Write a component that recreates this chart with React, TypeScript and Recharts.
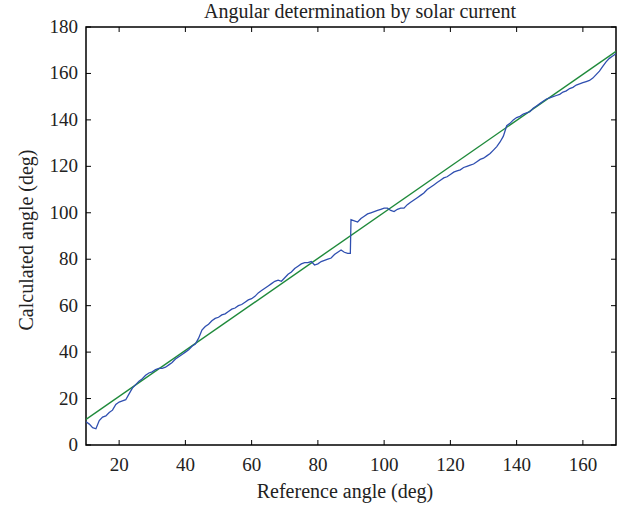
import { LineChart, Line, XAxis, YAxis, ReferenceArea } from "recharts";

const refAngle = [
  10, 11, 12, 13, 14, 15, 16, 17, 18, 19, 20, 21, 22, 23, 24, 25, 26, 27, 28, 29,
  30, 31, 32, 33, 34, 35, 36, 37, 38, 39, 40, 41, 42, 43, 44, 45, 46, 47, 48, 49,
  50, 51, 52, 53, 54, 55, 56, 57, 58, 59, 60, 61, 62, 63, 64, 65, 66, 67, 68, 69,
  70, 71, 72, 73, 74, 75, 76, 77, 78, 79, 80, 81, 82, 83, 84, 85, 86, 87, 88, 89,
  89.8, 90, 91, 92, 93, 94, 95, 96, 97, 98, 99, 100, 101, 102, 103, 104, 105, 106,
  107, 108, 109, 110, 111, 112, 113, 114, 115, 116, 117, 118, 119, 120, 121, 122,
  123, 124, 125, 126, 127, 128, 129, 130, 131, 132, 133, 134, 135, 136, 137, 138,
  139, 140, 141, 142, 143, 144, 145, 146, 147, 148, 149, 150, 151, 152, 153, 154,
  155, 156, 157, 158, 159, 160, 161, 162, 163, 164, 165, 166, 167, 168, 169, 170,
];
const calcAngle = [
  10, 9, 7.5, 7, 10.5, 12, 12.5, 14, 15, 17.5, 18.5, 19, 19.5, 22, 24.5, 26, 27.5, 28.5, 30, 31,
  31.5, 32.5, 33, 33, 33.5, 34.5, 35.5, 37, 38, 39, 40, 41, 42.5, 43.5, 46, 49.5, 51, 52, 53.5, 54.5,
  55, 56, 56.5, 57.5, 58.5, 59, 60, 60.5, 61.5, 62.5, 63, 64, 65.5, 66.5, 67.5, 68.5, 69.5, 70.5, 71, 70.5,
  72, 73.5, 74.5, 76, 77, 78, 78.5, 78.5, 79, 77.5, 78, 79, 79.5, 80, 80.5, 82, 83, 84, 83, 82.5,
  82.5, 97, 96.5, 96, 97.5, 98.5, 99.5, 100, 100.5, 101, 101.5, 102, 102, 101, 100.5, 101.5, 102, 102,
  103.5, 104.5, 105.5, 106.5, 107.5, 108.5, 110, 111, 112, 113, 114, 115, 115.5, 116.5, 117.5, 118,
  118.5, 119.5, 120, 120.5, 121, 122, 123, 123.5, 124.5, 125.5, 127, 128.5, 130.5, 133, 137.5, 138.5,
  140, 141, 141.5, 142.5, 143, 143.5, 145, 146, 147, 148, 149, 149.5, 150, 150.5, 151, 152,
  152.5, 153.5, 154, 155, 155.5, 156, 156.5, 157, 158, 159.5, 161, 163, 165, 166.5, 167.5, 168.5,
];

// least-squares reference line
const fitX = [10, 170];
const fitY = [11, 169.5];

const xTicks = [20, 40, 60, 80, 100, 120, 140, 160];
const yTicks = [0, 20, 40, 60, 80, 100, 120, 140, 160, 180];

const measured = refAngle.map((x, i) => ({ x, y: calcAngle[i] }));
const fit = fitX.map((x, i) => ({ x, y: fitY[i] }));

const FONT = "'Liberation Serif', 'DejaVu Serif', serif";
const BOX = { left: 86, right: 616, top: 27, bottom: 445 };
const TICK_LEN = 5;

function XTick(props: any) {
  const { x, payload } = props;
  return (
    <g>
      <line x1={x} x2={x} y1={BOX.bottom} y2={BOX.bottom - TICK_LEN} stroke="#000" />
      <line x1={x} x2={x} y1={BOX.top} y2={BOX.top + TICK_LEN} stroke="#000" />
      <text x={x} y={BOX.bottom + 26} textAnchor="middle" fontFamily={FONT} fontSize={19} fill="#222">
        {payload.value}
      </text>
    </g>
  );
}

function YTick(props: any) {
  const { y, payload } = props;
  return (
    <g>
      <line x1={BOX.left} x2={BOX.left + TICK_LEN} y1={y} y2={y} stroke="#000" />
      <line x1={BOX.right} x2={BOX.right - TICK_LEN} y1={y} y2={y} stroke="#000" />
      <text x={BOX.left - 8} y={y + 6} textAnchor="end" fontFamily={FONT} fontSize={19} fill="#222">
        {payload.value}
      </text>
    </g>
  );
}

export default function App() {
  return (
    <div style={{ position: "absolute", left: 0, top: 0, width: 622, height: 510, background: "#fff" }}>
      <LineChart width={622} height={510} margin={{ top: 27, right: 6, bottom: 0, left: 0 }}>
        <XAxis
          type="number"
          dataKey="x"
          domain={[10, 170]}
          ticks={xTicks}
          allowDataOverflow
          height={65}
          axisLine={false}
          tickLine={false}
          tickSize={0}
          tick={<XTick />}
        />
        <YAxis
          type="number"
          dataKey="y"
          domain={[0, 180]}
          ticks={yTicks}
          allowDataOverflow
          width={86}
          axisLine={false}
          tickLine={false}
          tickSize={0}
          tick={<YTick />}
        />
        <Line
          data={fit}
          dataKey="y"
          type="linear"
          stroke="#1f8a3b"
          strokeWidth={1.4}
          dot={false}
          isAnimationActive={false}
        />
        <Line
          data={measured}
          dataKey="y"
          type="linear"
          stroke="#2f4fb0"
          strokeWidth={1.3}
          dot={false}
          isAnimationActive={false}
        />
        <ReferenceArea
          x1={10}
          x2={170}
          y1={0}
          y2={180}
          fill="none"
          stroke="#000"
          strokeWidth={1.5}
          ifOverflow="visible"
        />
        <text x={360} y={18} textAnchor="middle" fontFamily={FONT} fontSize={20} fill="#222">
          Angular determination by solar current
        </text>
        <text x={345} y={498} textAnchor="middle" fontFamily={FONT} fontSize={20} fill="#222">
          Reference angle (deg)
        </text>
        <text
          x={33}
          y={240}
          textAnchor="middle"
          fontFamily={FONT}
          fontSize={20}
          fill="#222"
          transform="rotate(-90 33 240)"
        >
          Calculated angle (deg)
        </text>
      </LineChart>
    </div>
  );
}
